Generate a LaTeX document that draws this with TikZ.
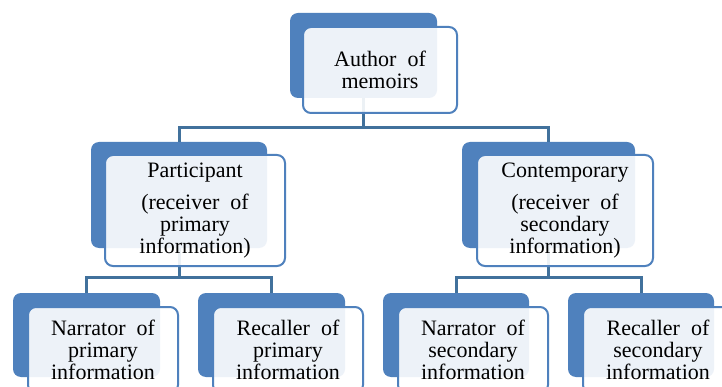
\documentclass[tikz,border=0pt]{standalone}
\usepackage{fontspec}
\setmainfont{Liberation Serif}
\newfontfamily\boxserif{Liberation Serif}
\definecolor{darkfill}{HTML}{4F81BD}
\definecolor{linec}{HTML}{41719C}
\newcommand{\boxfontsel}{\boxserif\fontsize{22}{22}\selectfont\setlength{\spaceskip}{0.5em}}
\tikzset{
 back/.style={draw=none, fill=darkfill, rounded corners=8pt, inner sep=0pt},
 front/.style={draw=darkfill, line width=2pt, fill=white, fill opacity=0.9, text opacity=1, rounded corners=8pt, inner sep=0pt, align=center, font=\boxfontsel},
 link/.style={draw=linec, line width=3pt}
}
\begin{document}
\begin{tikzpicture}[x=1pt,y=-1pt]
\useasboundingbox (0,0) rectangle (722,387);
\clip (0,0) rectangle (722,387);
\fill[white] (0,0) rectangle (722,387);
% back boxes
\node[back, minimum width=147pt, minimum height=85pt] (ts) at (363.5,55.5) {};
\node[back, minimum width=176pt, minimum height=106pt] (ps) at (179,195) {};
\node[back, minimum width=173pt, minimum height=106pt] (cs) at (548.5,195) {};
\node[back, minimum width=147pt, minimum height=84pt] (nps) at (86.5,335) {};
\node[back, minimum width=147pt, minimum height=84pt] (rps) at (271.5,335) {};
\node[back, minimum width=146pt, minimum height=84pt] (nss) at (456,335) {};
\node[back, minimum width=146pt, minimum height=84pt] (rss) at (641,335) {};
% connectors
\draw[link] (ts.south) -- ++(0,29) -| (ps.north);
\draw[link] (ts.south) -- ++(0,29) -| (cs.north);
\draw[link] (ps.south) -- ++(0,29) -| (nps.north);
\draw[link] (ps.south) -- ++(0,29) -| (rps.north);
\draw[link] (cs.south) -- ++(0,29) -| (nss.north);
\draw[link] (cs.south) -- ++(0,29) -| (rss.north);
% front boxes
\node[front, minimum width=154pt, minimum height=86pt] (t) at (380,70) {Author of\\memoirs};
\node[front, minimum width=180pt, minimum height=111pt] (p) at (195,210.5) {Participant\\[10pt](receiver of\\primary\\information)};
\node[front, minimum width=176pt, minimum height=111pt] (c) at (565,210.5) {Contemporary\\[10pt](receiver of\\secondary\\information)};
\node[front, minimum width=150pt, minimum height=86pt] (np) at (103,350) {Narrator of\\primary\\information};
\node[front, minimum width=150pt, minimum height=86pt] (rp) at (288,350) {Recaller of\\primary\\information};
\node[front, minimum width=150pt, minimum height=86pt] (ns) at (473,350) {Narrator of\\secondary\\information};
\node[front, minimum width=150pt, minimum height=86pt] (rs) at (658,350) {Recaller of\\secondary\\information};
\end{tikzpicture}
\end{document}
